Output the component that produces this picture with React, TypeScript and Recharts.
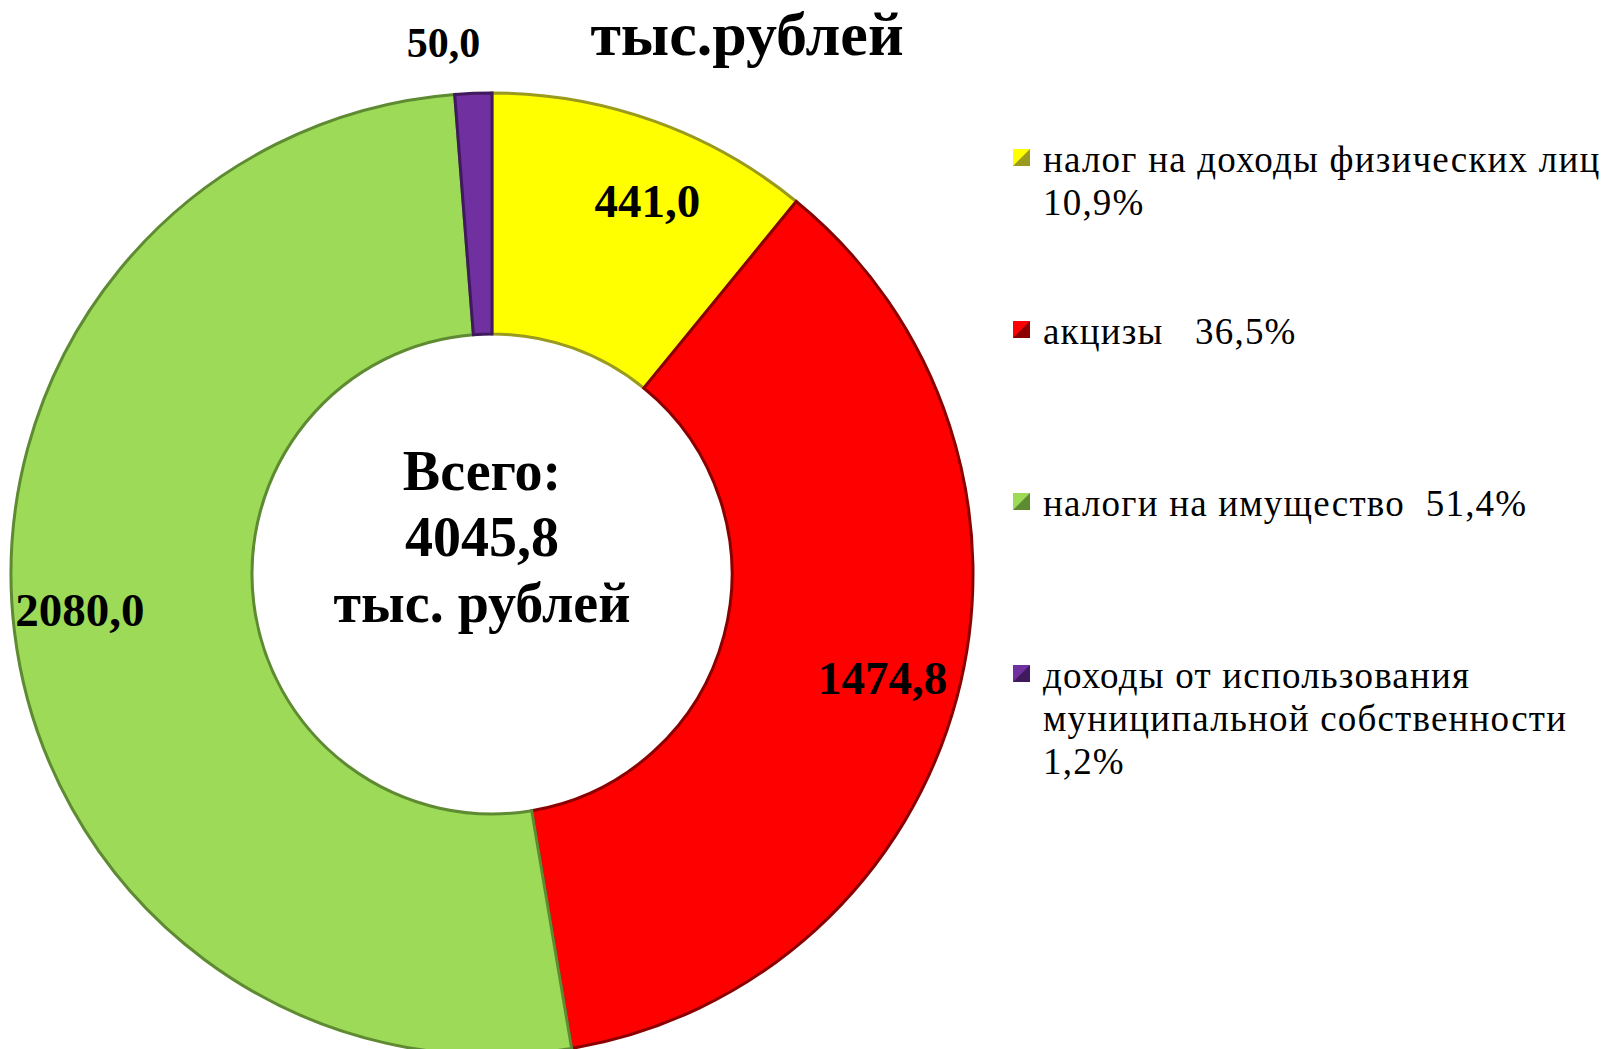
import { PieChart, Pie, Cell, Legend } from "recharts";

const names = [
  "налог на доходы физических лиц",
  "акцизы",
  "налоги на имущество",
  "доходы от использования\nмуниципальной собственности",
];
const values = [441.0, 1474.8, 2080.0, 50.0];
const pctSeparators = ["\n", "   ", "  ", "\n"];
const colors = ["#FFFF00", "#FE0000", "#9CDA58", "#7030A0"];
const edgeColors = ["#9a9a1e", "#8a0000", "#5e8a32", "#3f1a5c"];
const totalLabel = ["Всего:", "4045,8", "тыс. рублей"];
const unitTitle = "тыс.рублей";

const total = values.reduce((a, b) => a + b, 0);
const fmt = (v: number, d: number) => v.toFixed(d).replace(".", ",");

const data = names.map((name, i) => ({
  name,
  value: values[i],
  legend: name + pctSeparators[i] + fmt((values[i] / total) * 100, 1) + "%",
}));

const RAD = Math.PI / 180;

// excel "best fit" pushes labels around a bit; small angular nudges per slice
const labelNudge = [-3, 0, -2, 0];

const renderLabel = (props: any) => {
  const { cx, cy, midAngle, outerRadius, index, value } = props;
  const small = value / total < 0.03;
  const r = small ? outerRadius + 50 : outerRadius * (index === 2 ? 0.86 : 0.84);
  const a = (midAngle + labelNudge[index]) * RAD;
  let x = cx + r * Math.cos(-a);
  const y = cy + r * Math.sin(-a);
  if (small) x -= 28;
  return (
    <text
      key={`lbl-${index}`}
      x={x}
      y={y}
      textAnchor="middle"
      dominantBaseline="central"
      fontFamily="'Liberation Serif', serif"
      fontWeight="bold"
      fontSize={small ? 42 : 47}
      fill="#000"
    >
      {fmt(value, 1)}
    </text>
  );
};

const Marker = ({ i }: { i: number }) => (
  <svg width={17} height={17} style={{ position: "absolute", left: 0, top: 11 }}>
    <rect x={0} y={0} width={17} height={17} fill={edgeColors[i]} />
    <polygon points="0,0 17,0 0,17" fill={colors[i]} />
  </svg>
);

const renderLegend = () => (
  <div
    style={{
      fontFamily: "'Liberation Serif', serif",
      fontSize: 37,
      lineHeight: "43px",
      letterSpacing: "1.2px",
      color: "#000",
    }}
  >
    {data.map((d, i) => (
      <div key={d.name} style={{ position: "relative", height: 172, paddingLeft: 30, whiteSpace: "pre" }}>
        <Marker i={i} />
        {d.legend}
      </div>
    ))}
  </div>
);

export default function App() {
  return (
    <div style={{ position: "absolute", left: 0, top: 0, width: 1608, height: 1049, background: "#fff" }}>
      <PieChart width={1608} height={1049}>
        <Pie
          data={data}
          dataKey="value"
          nameKey="name"
          cx={487}
          cy={569}
          innerRadius={240}
          outerRadius={481}
          startAngle={90}
          endAngle={-270}
          paddingAngle={0}
          label={renderLabel}
          labelLine={false}
          isAnimationActive={false}
        >
          {data.map((d, i) => (
            <Cell key={d.name} fill={colors[i]} stroke={edgeColors[i]} strokeWidth={3} />
          ))}
        </Pie>
        <Legend
          layout="vertical"
          content={renderLegend}
          wrapperStyle={{ left: 1013, top: 138, width: 595 }}
        />
      </PieChart>
      <div
        style={{
          position: "absolute",
          left: 747 - 250,
          top: -2,
          width: 500,
          textAlign: "center",
          fontFamily: "'Liberation Serif', serif",
          fontWeight: "bold",
          fontSize: 62,
          lineHeight: "72px",
        }}
      >
        {unitTitle}
      </div>
      <div
        style={{
          position: "absolute",
          left: 482 - 200,
          top: 438,
          width: 400,
          textAlign: "center",
          fontFamily: "'Liberation Serif', serif",
          fontWeight: "bold",
          fontSize: 56,
          lineHeight: "66px",
        }}
      >
        {totalLabel.map((t) => (
          <div key={t}>{t}</div>
        ))}
      </div>
    </div>
  );
}
